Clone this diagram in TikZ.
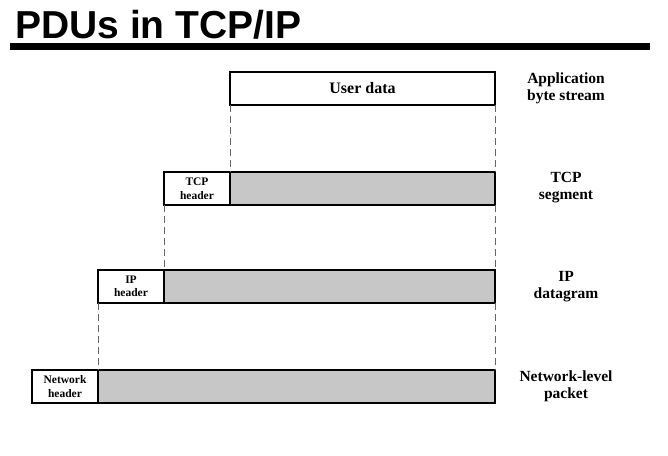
\documentclass[tikz,border=0pt]{standalone}
\usepackage{fontspec}
\setmainfont{Liberation Serif}
\newfontfamily\titlefont{Liberation Sans}
\usetikzlibrary{positioning}
\tikzset{
  hdrbox/.style={draw,line width=1.4pt,outer sep=0pt,fill=white,minimum width=66pt,minimum height=33pt,inner sep=0pt,align=center,font=\fontsize{11.5}{13.5}\selectfont\bfseries},
  databox/.style={draw,line width=1.4pt,outer sep=0pt,fill=black!22,minimum height=33pt,inner sep=0pt},
  sidelbl/.style={align=center,font=\fontsize{15.5}{17}\selectfont\bfseries},
  guide/.style={dashed,dash pattern=on 7pt off 4pt,line width=0.7pt,black!60}
}
\begin{document}
\begin{tikzpicture}[x=1pt,y=-1pt]
\useasboundingbox (0,0) rectangle (668,455);
% title
\node[anchor=base west,inner sep=0pt,font=\titlefont\fontsize{39}{39}\selectfont\bfseries] (title) at (15,38) {PDUs in TCP/IP};
\fill (10,43) rectangle (650,50);
% user data
\node[draw,line width=1.4pt,outer sep=0pt,minimum width=265pt,minimum height=33pt,inner sep=0pt,font=\fontsize{16}{16}\selectfont\bfseries] (ud) at (362.5,88.5) {User data};
% tcp segment
\node[databox,minimum width=265pt] (tcpd) at (362.5,188.5) {};
\node[hdrbox,left=0pt of tcpd] (tcph) {TCP\\header};
% ip datagram
\node[databox,minimum width=331pt] (ipd) at (329.5,286.5) {};
\node[hdrbox,left=0pt of ipd] (iph) {IP\\header};
% network-level packet
\node[databox,minimum width=397pt] (netd) at (296.5,386.5) {};
\node[hdrbox,left=0pt of netd] (neth) {Network\\header};
% guides
\draw[guide] (ud.south west) -- (tcpd.north west);
\draw[guide] (ud.south east) -- (tcpd.north east);
\draw[guide] (tcph.south west) -- (ipd.north west);
\draw[guide] (tcpd.south east) -- (ipd.north east);
\draw[guide] (iph.south west) -- (netd.north west);
\draw[guide] (ipd.south east) -- (netd.north east);
% labels
\node[sidelbl] (l1) at (566,88.5) {Application\\byte stream};
\node[sidelbl] (l2) at (566,187.5) {TCP\\segment};
\node[sidelbl] (l3) at (566,287) {IP\\datagram};
\node[sidelbl] (l4) at (566,386.5) {Network-level\\packet};
\end{tikzpicture}
\end{document}
